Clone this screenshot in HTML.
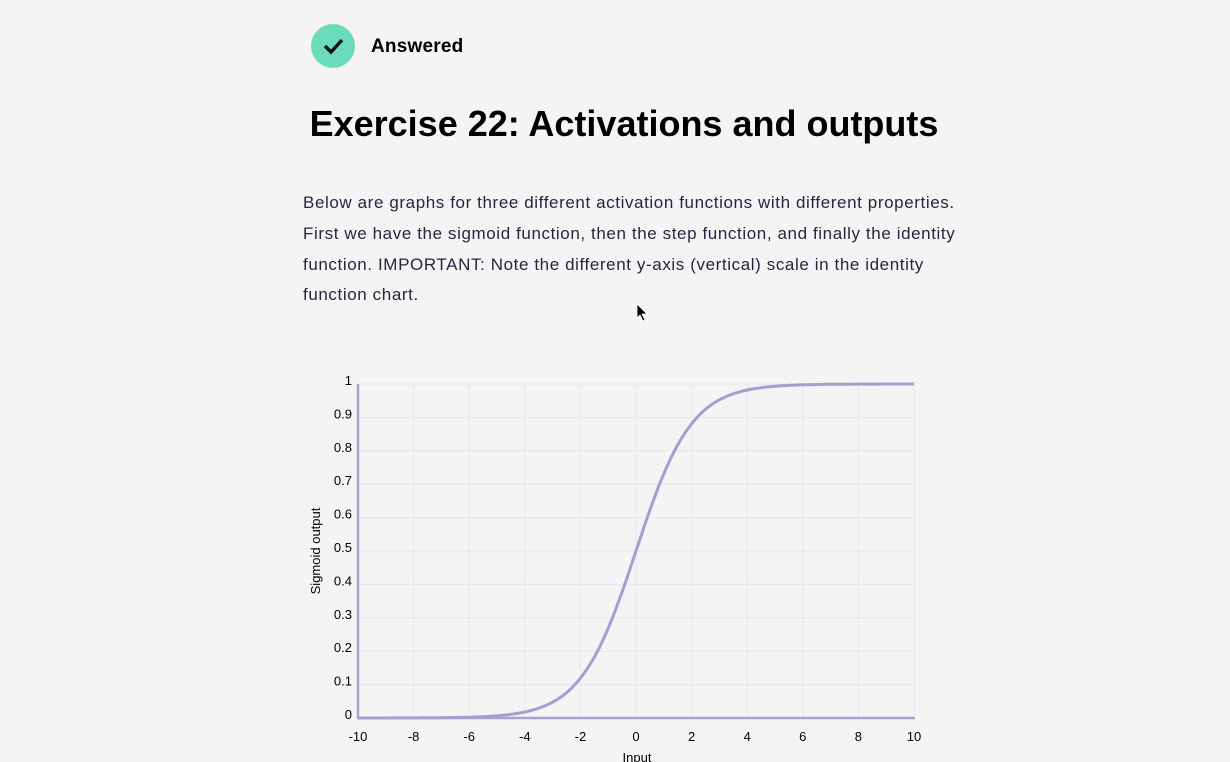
<!DOCTYPE html>
<html><head><meta charset="utf-8"><style>
body{margin:0;width:1230px;height:762px;background:#f5f3f4;overflow:hidden;font-family:"Liberation Sans",sans-serif;color:#000;position:relative}
.chk{position:absolute;left:311px;top:24px;width:44px;height:44px;border-radius:50%;background:#6bdcb9}
.ans{position:absolute;left:371px;top:36px;font-weight:bold;font-size:19px;letter-spacing:0.2px}
h1{position:absolute;left:0;width:1248px;text-align:center;top:103px;margin:0;font-size:36px;font-weight:bold}
p{position:absolute;left:303px;top:188px;width:662px;margin:0;font-size:17px;line-height:30.8px;color:#29253f;letter-spacing:0.6px}
svg{position:absolute;left:0;top:0}
</style></head><body>
<div class="chk"><svg width="44" height="44" style="position:absolute;left:0;top:0"><path d="M14 22 L20 28 L31 16" stroke="#111" stroke-width="3.5" fill="none"/></svg></div>
<div class="ans">Answered</div>
<h1>Exercise 22: Activations and outputs</h1>
<p>Below are graphs for three different activation functions with different properties. First we have the sigmoid function, then the step function, and finally the identity function. IMPORTANT: Note the different y-axis (vertical) scale in the identity function chart.</p>
<svg width="1230" height="762" id="c" font-family="Liberation Sans, sans-serif" font-size="13"></svg>
<script>
var s=document.getElementById('c'),h='';
var X=function(v){return 358+(v+10)*27.8},Y=function(v){return 718-v*334};
for(var i=-8;i<=10;i+=2)h+='<line x1="'+X(i)+'" y1="384" x2="'+X(i)+'" y2="718" stroke="#e8e5ee" stroke-width="1"/>';
for(var j=1;j<=10;j++)h+='<line x1="358" y1="'+Y(j/10)+'" x2="914" y2="'+Y(j/10)+'" stroke="#e8e5ee" stroke-width="1"/>';
for(var j=0;j<=10;j++){var t=j==0?'0':j==10?'1':'0.'+j;h+='<text x="352" y="'+(Y(j/10)+1)+'" text-anchor="end">'+t+'</text>';}
for(var i=-10;i<=10;i+=2)h+='<text x="'+X(i)+'" y="741" text-anchor="middle">'+i+'</text>';
h+='<line x1="358" y1="384" x2="358" y2="719" stroke="#a7a3d3" stroke-width="2.5"/>';
h+='<line x1="357" y1="718" x2="915" y2="718" stroke="#a7a3d3" stroke-width="2.5"/>';
var d='';for(var k=0;k<=200;k++){var x=-10+k*0.1,y=1/(1+Math.exp(-x));d+=(k?'L':'M')+X(x).toFixed(1)+' '+Y(y).toFixed(1);}
h+='<path d="'+d+'" fill="none" stroke="#a39fd0" stroke-width="3"/>';
h+='<text x="637" y="762" text-anchor="middle">Input</text>';
h+='<text transform="translate(320,551) rotate(-90)" text-anchor="middle">Sigmoid output</text>';
h+='<path d="M637 304 L637 318 L640 315 L643 321 L645 320 L642 314 L647 314 Z" fill="#000" stroke="#fff" stroke-width="0.8"/>';
s.innerHTML=h;
</script>
</body></html>
